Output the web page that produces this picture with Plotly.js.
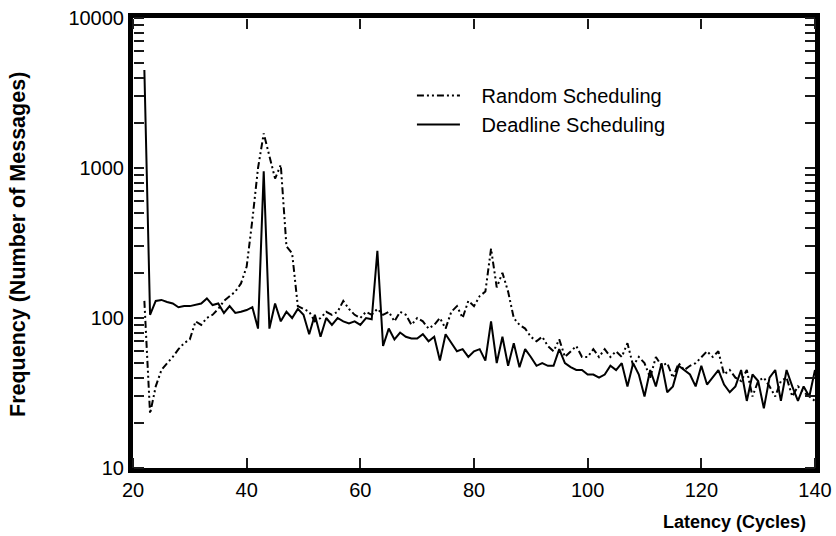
<!DOCTYPE html>
<html>
<head>
<meta charset="utf-8">
<script src="https://cdn.plot.ly/plotly-3.0.1.min.js"></script>
<style>html,body{margin:0;padding:0;background:#fff;}#chart{width:836px;height:536px;}</style>
</head>
<body>
<div id="chart"></div>
<script>
// Latency in cycles
const latency = [];
for (let c = 22; c <= 140; c++) latency.push(c);

// Deadline Scheduling frequencies (x = 22 .. 140)
const deadlineFreq = [
  4500, 105, 130, 132, 128, 125, 118, 120, 120, 122, 125, 135, 122, 125, 108, 120, 108, 110, 113, 118,
  85, 950, 85, 125, 95, 110, 100, 115, 105, 78, 105, 75, 100, 90, 100, 95, 92, 95, 90, 100,
  98, 280, 65, 85, 72, 80, 75, 73, 73, 78, 70, 75, 52, 78, 68, 60, 62, 55, 60, 62,
  52, 95, 50, 75, 48, 68, 47, 62, 55, 48, 50, 48, 48, 62, 50, 47, 45, 45, 42, 42,
  40, 42, 48, 45, 50, 35, 50, 42, 30, 45, 35, 50, 32, 35, 48, 45, 42, 35, 48, 36,
  40, 45, 36, 32, 35, 45, 28, 42, 38, 25, 40, 45, 28, 45, 35, 28, 35, 30, 45
];

// Random Scheduling frequencies (x = 22 .. 140)
const randomFreq = [
  130, 23, 35, 45, 50, 55, 62, 68, 72, 95, 90, 100, 105, 115, 130, 140, 150, 170, 220, 450,
  1000, 1700, 1200, 850, 1050, 300, 270, 120, 115, 110, 95, 100, 110, 105, 110, 130, 115, 105, 100, 110,
  105, 115, 105, 110, 95, 110, 105, 90, 100, 95, 85, 90, 100, 85, 110, 120, 100, 130, 120, 140,
  150, 290, 160, 200, 150, 100, 90, 85, 75, 70, 75, 65, 60, 72, 55, 60, 65, 55, 55, 62,
  55, 62, 55, 60, 55, 68, 48, 55, 50, 40, 55, 48, 50, 40, 50, 45, 48, 50, 55, 60,
  55, 60, 42, 45, 40, 38, 45, 30, 38, 40, 35, 30, 38, 40, 30, 35, 32, 30, 28
];

const xTicks = [20, 40, 60, 80, 100, 120, 140];
const yTicks = [10, 100, 1000, 10000];

const font = 'Liberation Sans, Arial, Helvetica, sans-serif';
const tickInk = '#1a1a1a';

const traces = [
  {
    x: latency, y: randomFreq, type: 'scatter', mode: 'lines',
    name: '&nbsp;&nbsp;&nbsp;Random Scheduling',
    line: {color: '#000', width: 2, dash: '7px,3px,2px,3px,2px,3px'}
  },
  {
    x: latency, y: deadlineFreq, type: 'scatter', mode: 'lines',
    name: '&nbsp;&nbsp;&nbsp;Deadline Scheduling',
    line: {color: '#000', width: 2}
  },
  // invisible carriers so the inward-tick overlay axes are drawn
  {x: latency, y: deadlineFreq, xaxis: 'x2', yaxis: 'y2', type: 'scatter', mode: 'lines',
   line: {color: 'rgba(0,0,0,0)'}, showlegend: false, hoverinfo: 'skip'},
  {x: latency, y: deadlineFreq, xaxis: 'x3', yaxis: 'y3', type: 'scatter', mode: 'lines',
   line: {color: 'rgba(0,0,0,0)'}, showlegend: false, hoverinfo: 'skip'}
];

function tickAxisX(side, pos) {
  return {
    type: 'linear', range: [20, 140], overlaying: 'x', side: side, anchor: 'free', position: pos,
    tickmode: 'linear', tick0: 20, dtick: 20,
    ticks: 'outside', ticklen: 10, tickwidth: 2, tickcolor: tickInk,
    showticklabels: false, showgrid: false, showline: false, zeroline: false
  };
}
function tickAxisY(side, pos) {
  return {
    type: 'log', range: [1, 4], overlaying: 'y', side: side, anchor: 'free', position: pos,
    ticks: 'outside', ticklen: 10, tickwidth: 2, tickcolor: tickInk,
    showticklabels: false, showgrid: false, showline: false, zeroline: false
  };
}

const layout = {
  width: 836, height: 536,
  margin: {l: 133, r: 21, t: 18, b: 68},
  paper_bgcolor: '#fff', plot_bgcolor: '#fff',
  font: {family: font, size: 20, color: '#000'},
  showlegend: true,
  legend: {
    x: 0.409, y: 0.871, xanchor: 'left', yanchor: 'top',
    bgcolor: 'rgba(0,0,0,0)', borderwidth: 0,
    font: {family: font, size: 20, color: '#000'},
    tracegroupgap: 0, itemwidth: 43
  },
  xaxis: {
    type: 'linear', range: [20, 140],
    tickmode: 'array', tickvals: xTicks, ticktext: xTicks.map(String),
    showline: true, linewidth: 5, linecolor: '#000', mirror: true,
    showgrid: false, zeroline: false,
    tickfont: {family: font, size: 20, color: '#000'}
  },
  yaxis: {
    type: 'log', range: [1, 4],
    tickmode: 'array', tickvals: yTicks, ticktext: yTicks.map(String),
    showline: true, linewidth: 5, linecolor: '#000', mirror: true,
    showgrid: false, zeroline: false,
    tickfont: {family: font, size: 20, color: '#000'}
  },
  xaxis2: tickAxisX('top', 0),     // bottom edge, ticks pointing up
  xaxis3: tickAxisX('bottom', 1),  // top edge, ticks pointing down
  yaxis2: tickAxisY('right', 0),   // left edge, ticks pointing right
  yaxis3: tickAxisY('left', 1),    // right edge, ticks pointing left
  annotations: [
    {
      text: '<b>Latency (Cycles)</b>', xref: 'paper', yref: 'paper',
      x: 0.99, y: -0.12, xanchor: 'right', yanchor: 'middle', showarrow: false,
      font: {family: font, size: 18, color: '#000'}
    },
    {
      text: '<b>Frequency (Number of Messages)</b>', xref: 'paper', yref: 'paper',
      x: -0.1686, y: 0.4956, xanchor: 'center', yanchor: 'middle', textangle: -90, showarrow: false,
      font: {family: font, size: 21.5, color: '#000'}
    }
  ]
};

Plotly.newPlot('chart', traces, layout, {displayModeBar: false, staticPlot: true});
</script>
</body>
</html>
